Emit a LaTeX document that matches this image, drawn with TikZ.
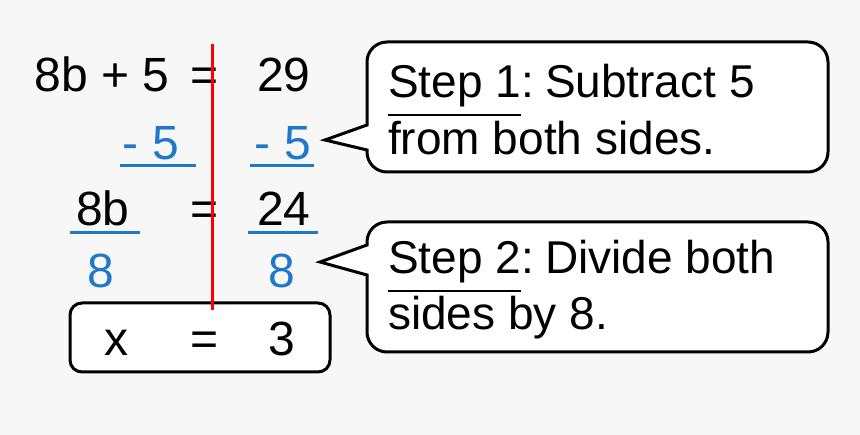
\documentclass[tikz,border=0pt]{standalone}
\usepackage{fontspec}
\setmainfont{Liberation Sans}
\newcommand\myul[1]{\leavevmode\vtop{\hbox{#1}\kern6pt\hrule height 2pt}}
\begin{document}
\begin{tikzpicture}[x=1pt,y=-1pt,
  eq/.style={font=\fontsize{48}{54}\selectfont, inner sep=0pt, anchor=base},
  bl/.style={eq, text=myblue},
  txt/.style={font=\fontsize{46}{54}\selectfont, inner sep=0pt, anchor=base west, align=left},
  box/.style={draw=black, line width=3pt, rounded corners=20pt, fill=white}]
\definecolor{myblue}{HTML}{1F78C8}
\definecolor{bg}{HTML}{F7F7F7}
\fill[bg] (0,0) rectangle (860,435);
\useasboundingbox (0,0) rectangle (860,435);
% callouts
\draw[box] (367,125) -- (367,42) -- (828,42) -- (828,172) -- (367,172) [sharp corners] -- (367,150) -- (325,140) -- (367,125) -- cycle;
\draw[box] (367,245) -- (367,222) -- (828,222) -- (828,352) -- (367,352) [sharp corners] -- (367,275) -- (320,262) -- (367,245) -- cycle;
\node[txt] (s1) at (388,98) {\myul{Step 1}:\hspace{-6pt} Subtract 5};
\node[txt] (s1b) at (388,155) {from both sides.};
\node[txt] (s2) at (388,274) {\myul{Step 2}:\hspace{-6pt} Divide both};
\node[txt] (s2b) at (388,330) {sides by 8.};
% answer box
\draw[box, rounded corners=12pt] (70,303) rectangle (330,372);
% equation
\node[eq] (l1) at (102,92) {8b + 5};
\node[eq] (e1) at (205,92) {=};
\node[eq] (r1) at (284,92) {29};
\node[bl] (m1) at (151,160) {- 5};
\node[bl] (m2) at (283,160) {- 5};
\draw[myblue, line width=3pt] (120,166) -- (196,166) (250,166) -- (314,166);
\node[eq] (l3) at (103,226) {8b};
\node[eq] (e3) at (205,226) {=};
\node[eq] (r3) at (284,226) {24};
\draw[myblue, line width=3pt] (70,233) -- (140,233) (248,233) -- (318,233);
\node[bl] (d1) at (101,288) {8};
\node[bl] (d2) at (282,288) {8};
\node[eq] (x) at (116,356) {x};
\node[eq] (e4) at (205,356) {=};
\node[eq] (th) at (282,356) {3};
\draw[red, line width=3pt] (212,44) -- (212,310);
\end{tikzpicture}
\end{document}
